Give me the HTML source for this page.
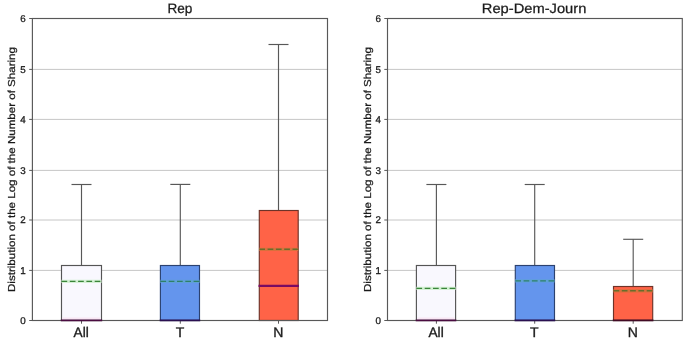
<!DOCTYPE html><html><head><meta charset="utf-8"><style>html,body{margin:0;padding:0;background:#fff;overflow:hidden}svg{will-change:transform;text-rendering:geometricPrecision}</style></head><body><svg width="685" height="341" viewBox="0 0 685 341" style="display:block">
<rect width="685" height="341" fill="#fff"/>
<line x1="32.4" y1="270.4" x2="327.5" y2="270.4" stroke="#c6c6c6" stroke-width="1"/>
<line x1="32.4" y1="220.0" x2="327.5" y2="220.0" stroke="#c6c6c6" stroke-width="1"/>
<line x1="32.4" y1="170.4" x2="327.5" y2="170.4" stroke="#c6c6c6" stroke-width="1"/>
<line x1="32.4" y1="119.4" x2="327.5" y2="119.4" stroke="#c6c6c6" stroke-width="1"/>
<line x1="32.4" y1="69.4" x2="327.5" y2="69.4" stroke="#c6c6c6" stroke-width="1"/>
<line x1="81.5" y1="265.5" x2="81.5" y2="184.5" stroke="#585858" stroke-width="1.15"/>
<line x1="71.5" y1="184.5" x2="91.5" y2="184.5" stroke="#585858" stroke-width="1.15"/>
<rect x="61.5" y="265.5" width="40.0" height="55.0" fill="#f9f8fe" stroke="#555555" stroke-width="1.15"/>
<line x1="61.5" y1="281.4" x2="101.5" y2="281.4" stroke="#d4f0d4" stroke-width="3.2"/>
<line x1="61.5" y1="281.4" x2="101.5" y2="281.4" stroke="#3a853a" stroke-width="1.4" stroke-dasharray="5.7 2.6"/>
<line x1="81.5" y1="320.5" x2="81.5" y2="323.7" stroke="#585858" stroke-width="1"/>
<text x="81.2" y="336.5" font-size="14" text-anchor="middle" font-family="Liberation Sans, sans-serif" fill="#1a1a1a" stroke="#1a1a1a" stroke-width="0.35" textLength="15.2" lengthAdjust="spacingAndGlyphs">All</text>
<line x1="180.3" y1="265.5" x2="180.3" y2="184.4" stroke="#585858" stroke-width="1.15"/>
<line x1="170.3" y1="184.4" x2="190.3" y2="184.4" stroke="#585858" stroke-width="1.15"/>
<rect x="160.4" y="265.5" width="39.1" height="55.0" fill="#6495ed" stroke="#2c4270" stroke-width="1.15"/>
<line x1="160.4" y1="281.4" x2="199.5" y2="281.4" stroke="#5fa0d8" stroke-width="3.2"/>
<line x1="160.4" y1="281.4" x2="199.5" y2="281.4" stroke="#2f8068" stroke-width="1.4" stroke-dasharray="5.7 2.6"/>
<line x1="180.3" y1="320.5" x2="180.3" y2="323.7" stroke="#585858" stroke-width="1"/>
<text x="180.0" y="336.5" font-size="14" text-anchor="middle" font-family="Liberation Sans, sans-serif" fill="#1a1a1a" stroke="#1a1a1a" stroke-width="0.35">T</text>
<line x1="278.5" y1="210.5" x2="278.5" y2="44.5" stroke="#585858" stroke-width="1.15"/>
<line x1="268.5" y1="44.5" x2="288.5" y2="44.5" stroke="#585858" stroke-width="1.15"/>
<rect x="259.3" y="210.5" width="38.9" height="110.0" fill="#ff6347" stroke="#6e3328" stroke-width="1.15"/>
<line x1="259.3" y1="249.3" x2="298.2" y2="249.3" stroke="#d8703c" stroke-width="3.2"/>
<line x1="259.3" y1="249.3" x2="298.2" y2="249.3" stroke="#6a6c2c" stroke-width="1.4" stroke-dasharray="5.7 2.6"/>
<line x1="258.5" y1="285.8" x2="299.0" y2="285.8" stroke="#7a0a62" stroke-width="2.3"/>
<line x1="278.5" y1="320.5" x2="278.5" y2="323.7" stroke="#585858" stroke-width="1"/>
<text x="278.2" y="336.5" font-size="14" text-anchor="middle" font-family="Liberation Sans, sans-serif" fill="#1a1a1a" stroke="#1a1a1a" stroke-width="0.35">N</text>
<line x1="29.2" y1="320.5" x2="32.4" y2="320.5" stroke="#585858" stroke-width="1"/>
<text x="25.8" y="323.9" font-size="9.8" text-anchor="end" font-family="Liberation Sans, sans-serif" fill="#1a1a1a" stroke="#1a1a1a" stroke-width="0.3">0</text>
<line x1="29.2" y1="270.4" x2="32.4" y2="270.4" stroke="#585858" stroke-width="1"/>
<text x="25.8" y="273.8" font-size="9.8" text-anchor="end" font-family="Liberation Sans, sans-serif" fill="#1a1a1a" stroke="#1a1a1a" stroke-width="0.3">1</text>
<line x1="29.2" y1="220.0" x2="32.4" y2="220.0" stroke="#585858" stroke-width="1"/>
<text x="25.8" y="223.4" font-size="9.8" text-anchor="end" font-family="Liberation Sans, sans-serif" fill="#1a1a1a" stroke="#1a1a1a" stroke-width="0.3">2</text>
<line x1="29.2" y1="170.4" x2="32.4" y2="170.4" stroke="#585858" stroke-width="1"/>
<text x="25.8" y="173.8" font-size="9.8" text-anchor="end" font-family="Liberation Sans, sans-serif" fill="#1a1a1a" stroke="#1a1a1a" stroke-width="0.3">3</text>
<line x1="29.2" y1="119.4" x2="32.4" y2="119.4" stroke="#585858" stroke-width="1"/>
<text x="25.8" y="122.9" font-size="9.8" text-anchor="end" font-family="Liberation Sans, sans-serif" fill="#1a1a1a" stroke="#1a1a1a" stroke-width="0.3">4</text>
<line x1="29.2" y1="69.4" x2="32.4" y2="69.4" stroke="#585858" stroke-width="1"/>
<text x="25.8" y="72.9" font-size="9.8" text-anchor="end" font-family="Liberation Sans, sans-serif" fill="#1a1a1a" stroke="#1a1a1a" stroke-width="0.3">5</text>
<line x1="29.2" y1="18.5" x2="32.4" y2="18.5" stroke="#585858" stroke-width="1"/>
<text x="25.8" y="21.9" font-size="9.8" text-anchor="end" font-family="Liberation Sans, sans-serif" fill="#1a1a1a" stroke="#1a1a1a" stroke-width="0.3">6</text>
<rect x="32.4" y="18.5" width="295.1" height="302.0" fill="none" stroke="#585858" stroke-width="1.15"/>
<line x1="62.5" y1="318.3" x2="100.5" y2="318.3" stroke="#f9e6f4" stroke-width="1.4"/>
<line x1="60.8" y1="320.4" x2="102.2" y2="320.4" stroke="#4a0c40" stroke-width="1.6"/>
<line x1="159.7" y1="320.4" x2="200.2" y2="320.4" stroke="#2a1050" stroke-width="1.6"/>
<text x="179.95" y="13.4" font-size="13.6" text-anchor="middle" font-family="Liberation Sans, sans-serif" fill="#1a1a1a" stroke="#1a1a1a" stroke-width="0.25">Rep</text>
<text transform="translate(15.40,169.50) rotate(-90)" x="0" y="0" font-size="10.1" text-anchor="middle" textLength="245" lengthAdjust="spacingAndGlyphs" font-family="Liberation Sans, sans-serif" fill="#1a1a1a" stroke="#1a1a1a" stroke-width="0.25">Distribution of the Log of the Number of Sharing</text>
<line x1="387.5" y1="270.4" x2="682.3" y2="270.4" stroke="#c6c6c6" stroke-width="1"/>
<line x1="387.5" y1="220.0" x2="682.3" y2="220.0" stroke="#c6c6c6" stroke-width="1"/>
<line x1="387.5" y1="170.4" x2="682.3" y2="170.4" stroke="#c6c6c6" stroke-width="1"/>
<line x1="387.5" y1="119.4" x2="682.3" y2="119.4" stroke="#c6c6c6" stroke-width="1"/>
<line x1="387.5" y1="69.4" x2="682.3" y2="69.4" stroke="#c6c6c6" stroke-width="1"/>
<line x1="436.4" y1="265.5" x2="436.4" y2="184.5" stroke="#585858" stroke-width="1.15"/>
<line x1="426.4" y1="184.5" x2="446.4" y2="184.5" stroke="#585858" stroke-width="1.15"/>
<rect x="416.4" y="265.5" width="39.2" height="55.0" fill="#f9f8fe" stroke="#555555" stroke-width="1.15"/>
<line x1="416.4" y1="288.4" x2="455.6" y2="288.4" stroke="#d4f0d4" stroke-width="3.2"/>
<line x1="416.4" y1="288.4" x2="455.6" y2="288.4" stroke="#3a853a" stroke-width="1.4" stroke-dasharray="5.7 2.6"/>
<line x1="436.4" y1="320.5" x2="436.4" y2="323.7" stroke="#585858" stroke-width="1"/>
<text x="436.1" y="336.5" font-size="14" text-anchor="middle" font-family="Liberation Sans, sans-serif" fill="#1a1a1a" stroke="#1a1a1a" stroke-width="0.35" textLength="15.2" lengthAdjust="spacingAndGlyphs">All</text>
<line x1="534.7" y1="265.5" x2="534.7" y2="184.5" stroke="#585858" stroke-width="1.15"/>
<line x1="524.7" y1="184.5" x2="544.7" y2="184.5" stroke="#585858" stroke-width="1.15"/>
<rect x="515.3" y="265.5" width="39.2" height="55.0" fill="#6495ed" stroke="#2c4270" stroke-width="1.15"/>
<line x1="515.3" y1="280.9" x2="554.5" y2="280.9" stroke="#5fa0d8" stroke-width="3.2"/>
<line x1="515.3" y1="280.9" x2="554.5" y2="280.9" stroke="#2f8068" stroke-width="1.4" stroke-dasharray="5.7 2.6"/>
<line x1="534.7" y1="320.5" x2="534.7" y2="323.7" stroke="#585858" stroke-width="1"/>
<text x="534.4" y="336.5" font-size="14" text-anchor="middle" font-family="Liberation Sans, sans-serif" fill="#1a1a1a" stroke="#1a1a1a" stroke-width="0.35">T</text>
<line x1="633.2" y1="286.5" x2="633.2" y2="239.3" stroke="#585858" stroke-width="1.15"/>
<line x1="623.2" y1="239.3" x2="643.2" y2="239.3" stroke="#585858" stroke-width="1.15"/>
<rect x="613.5" y="286.5" width="39.2" height="34.0" fill="#ff6347" stroke="#6e3328" stroke-width="1.15"/>
<line x1="613.5" y1="290.8" x2="652.7" y2="290.8" stroke="#d8703c" stroke-width="3.2"/>
<line x1="613.5" y1="290.8" x2="652.7" y2="290.8" stroke="#6a6c2c" stroke-width="1.4" stroke-dasharray="5.7 2.6"/>
<line x1="633.2" y1="320.5" x2="633.2" y2="323.7" stroke="#585858" stroke-width="1"/>
<text x="632.9" y="336.5" font-size="14" text-anchor="middle" font-family="Liberation Sans, sans-serif" fill="#1a1a1a" stroke="#1a1a1a" stroke-width="0.35">N</text>
<line x1="384.3" y1="320.5" x2="387.5" y2="320.5" stroke="#585858" stroke-width="1"/>
<text x="380.9" y="323.9" font-size="9.8" text-anchor="end" font-family="Liberation Sans, sans-serif" fill="#1a1a1a" stroke="#1a1a1a" stroke-width="0.3">0</text>
<line x1="384.3" y1="270.4" x2="387.5" y2="270.4" stroke="#585858" stroke-width="1"/>
<text x="380.9" y="273.8" font-size="9.8" text-anchor="end" font-family="Liberation Sans, sans-serif" fill="#1a1a1a" stroke="#1a1a1a" stroke-width="0.3">1</text>
<line x1="384.3" y1="220.0" x2="387.5" y2="220.0" stroke="#585858" stroke-width="1"/>
<text x="380.9" y="223.4" font-size="9.8" text-anchor="end" font-family="Liberation Sans, sans-serif" fill="#1a1a1a" stroke="#1a1a1a" stroke-width="0.3">2</text>
<line x1="384.3" y1="170.4" x2="387.5" y2="170.4" stroke="#585858" stroke-width="1"/>
<text x="380.9" y="173.8" font-size="9.8" text-anchor="end" font-family="Liberation Sans, sans-serif" fill="#1a1a1a" stroke="#1a1a1a" stroke-width="0.3">3</text>
<line x1="384.3" y1="119.4" x2="387.5" y2="119.4" stroke="#585858" stroke-width="1"/>
<text x="380.9" y="122.9" font-size="9.8" text-anchor="end" font-family="Liberation Sans, sans-serif" fill="#1a1a1a" stroke="#1a1a1a" stroke-width="0.3">4</text>
<line x1="384.3" y1="69.4" x2="387.5" y2="69.4" stroke="#585858" stroke-width="1"/>
<text x="380.9" y="72.9" font-size="9.8" text-anchor="end" font-family="Liberation Sans, sans-serif" fill="#1a1a1a" stroke="#1a1a1a" stroke-width="0.3">5</text>
<line x1="384.3" y1="18.5" x2="387.5" y2="18.5" stroke="#585858" stroke-width="1"/>
<text x="380.9" y="21.9" font-size="9.8" text-anchor="end" font-family="Liberation Sans, sans-serif" fill="#1a1a1a" stroke="#1a1a1a" stroke-width="0.3">6</text>
<rect x="387.5" y="18.5" width="294.8" height="302.0" fill="none" stroke="#585858" stroke-width="1.15"/>
<line x1="417.4" y1="318.3" x2="454.6" y2="318.3" stroke="#f9e6f4" stroke-width="1.4"/>
<line x1="415.7" y1="320.4" x2="456.3" y2="320.4" stroke="#4a0c40" stroke-width="1.6"/>
<line x1="514.6" y1="320.4" x2="555.2" y2="320.4" stroke="#2a1050" stroke-width="1.6"/>
<line x1="612.8" y1="320.4" x2="653.4" y2="320.4" stroke="#420a24" stroke-width="1.6"/>
<text x="534.10" y="13.4" font-size="13.6" text-anchor="middle" font-family="Liberation Sans, sans-serif" fill="#1a1a1a" stroke="#1a1a1a" stroke-width="0.25" textLength="104.5" lengthAdjust="spacingAndGlyphs">Rep-Dem-Journ</text>
<text transform="translate(370.50,169.50) rotate(-90)" x="0" y="0" font-size="10.1" text-anchor="middle" textLength="245" lengthAdjust="spacingAndGlyphs" font-family="Liberation Sans, sans-serif" fill="#1a1a1a" stroke="#1a1a1a" stroke-width="0.25">Distribution of the Log of the Number of Sharing</text>
</svg></body></html>
